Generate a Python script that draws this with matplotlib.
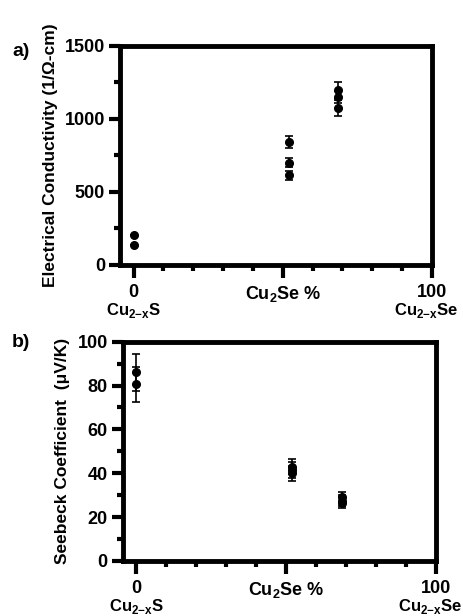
import matplotlib.pyplot as plt
import numpy as np
from matplotlib.ticker import MultipleLocator, FixedLocator

plt.rcParams['font.family'] = ['Liberation Sans', 'DejaVu Sans']
plt.rcParams['font.weight'] = 'bold'
plt.rcParams['mathtext.fontset'] = 'custom'
plt.rcParams['mathtext.rm'] = 'Liberation Sans:bold'
plt.rcParams['mathtext.bf'] = 'Liberation Sans:bold'

# Electrical conductivity (1/Ohm-cm)
cond_x = [0, 0, 52, 52, 52, 68.5, 68.5, 68.5]
cond_y = [205, 135, 842, 699, 612, 1198, 1150, 1075]
cond_err = [0, 0, 40, 32, 32, 55, 40, 55]

# Seebeck coefficient (uV/K)
seeb_x = [0, 0, 52, 52, 52, 68.5, 68.5, 68.5]
seeb_y = [86, 80.5, 43, 41.5, 40, 29, 27.5, 26.5]
seeb_err = [8.5, 8, 3.5, 3.5, 3.5, 2.5, 2.5, 2.5]

xtick_pos = [0, 50, 100]
xtick_lab = ['0', r'Cu$_{2}$Se %', '100']
end_labels = [r'Cu$_{2\mathrm{-x}}$S', r'Cu$_{2\mathrm{-x}}$Se']

fig = plt.figure(figsize=(4.64, 6.16), dpi=100, facecolor='w')
ax1 = fig.add_axes([0.259, 0.570, 0.672, 0.356])
ax2 = fig.add_axes([0.265, 0.0893, 0.675, 0.356])


def style(ax, ymax, ymaj, ylabel):
    ax.set_xlim(-4.5, 100)
    ax.set_ylim(0, ymax)
    for s in ax.spines.values():
        s.set_linewidth(3.5)
    ax.xaxis.set_major_locator(FixedLocator(xtick_pos))
    ax.xaxis.set_minor_locator(FixedLocator([10, 20, 30, 40, 60, 70, 80, 90]))
    ax.set_xticklabels(xtick_lab)
    ax.yaxis.set_major_locator(MultipleLocator(ymaj))
    ax.yaxis.set_minor_locator(MultipleLocator(ymaj / 2))
    ax.tick_params(which='major', length=8, width=3, labelsize=13, pad=3)
    ax.tick_params(which='minor', length=4, width=3)
    ax.tick_params(axis='x', which='major', length=9, pad=5)
    for lab in ax.get_xticklabels() + ax.get_yticklabels():
        lab.set_fontweight('bold')
    ax.set_ylabel(ylabel, fontsize=12.5, fontweight='bold', labelpad=5)
    # composition labels under both ends of the x axis
    ax.annotate(end_labels[0], xy=(0, 0), xycoords=('data', 'axes fraction'),
                xytext=(0, -33), textcoords='offset points',
                ha='center', va='center', fontsize=12, fontweight='bold')
    ax.annotate(end_labels[1], xy=(100, 0), xycoords=('data', 'axes fraction'),
                xytext=(19, -33), textcoords='offset points',
                ha='right', va='center', fontsize=12, fontweight='bold')


ax1.errorbar(cond_x, cond_y, yerr=cond_err, fmt='o', color='k', ms=5.5,
             ecolor='k', elinewidth=1.2, capsize=3, capthick=1.2, clip_on=False)
style(ax1, 1500, 500, u'Electrical Conductivity (1/\u03a9-cm)')

ax2.errorbar(seeb_x, seeb_y, yerr=seeb_err, fmt='o', color='k', ms=5.5,
             ecolor='k', elinewidth=1.2, capsize=3, capthick=1.2, clip_on=False)
style(ax2, 100, 20, u'Seebeck Coefficient  (\u03bcV/K)')

fig.text(12 / 464, 1 - 52 / 616, 'a)', fontsize=14, fontweight='bold',
         ha='left', va='center')
fig.text(12 / 464, 1 - 343 / 616, 'b)', fontsize=14, fontweight='bold',
         ha='left', va='center')

plt.savefig('out.png', dpi=100, facecolor='w')
plt.close()
